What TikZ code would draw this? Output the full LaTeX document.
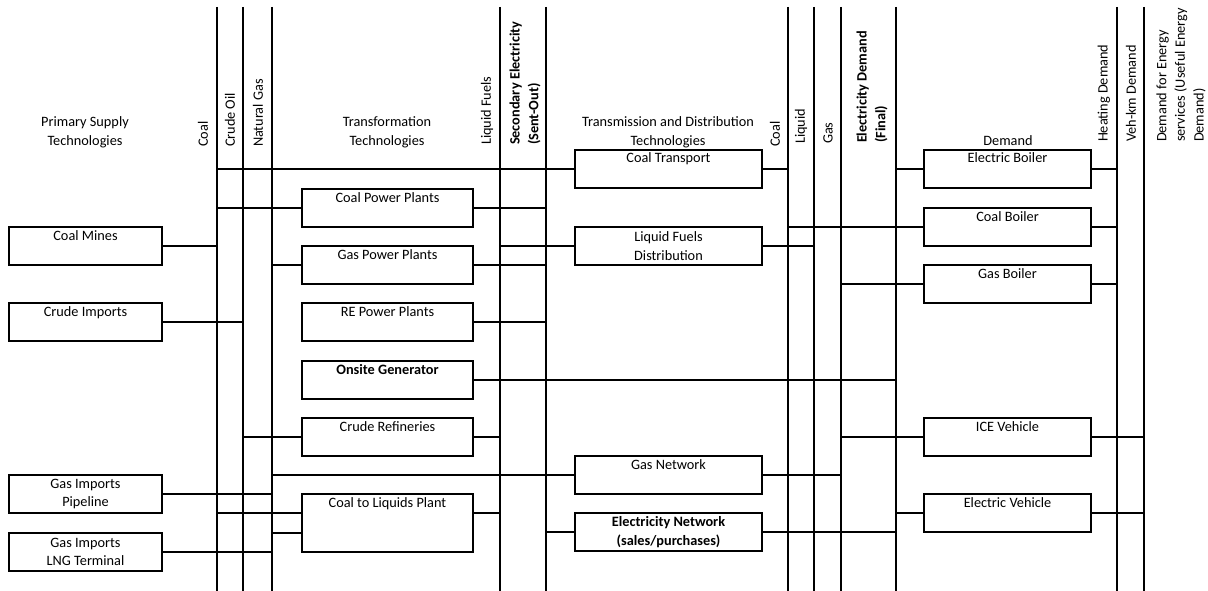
\documentclass[tikz,border=0pt]{standalone}
\usepackage{fontspec}
\setmainfont{Carlito}
\begin{document}
\begin{tikzpicture}[x=1pt,y=-1pt,line width=2pt,
    font=\fontsize{14.3}{18.7}\selectfont,
    tech/.style={draw,inner sep=0pt,minimum height=38pt,align=center},
    oneline/.style={text height=13pt,text depth=25pt},
    supply/.style={tech,minimum width=153pt},
    transf/.style={tech,minimum width=171pt},
    distr/.style={tech,minimum width=187pt},
    usage/.style={tech,minimum width=167pt},
    carrier/.style={rotate=90,anchor=west,inner sep=0pt,align=left}]
    \useasboundingbox (0,0) rectangle (1208,591);

    % energy carrier buses
    \coordinate (coal) at (217,7);
    \coordinate (crude) at (243,7);
    \coordinate (ngas) at (272,7);
    \coordinate (liqf) at (500,7);
    \coordinate (secel) at (546,7);
    \coordinate (coaltd) at (788,7);
    \coordinate (liqtd) at (814,7);
    \coordinate (gastd) at (841,7);
    \coordinate (eldem) at (896,7);
    \coordinate (heat) at (1117,7);
    \coordinate (vehkm) at (1144,7);
    \foreach \b in {coal,crude,ngas,liqf,secel,coaltd,liqtd,gastd,eldem,heat,vehkm}
        \draw (\b) -- ++(0,584);

    % column headings
    \node[align=center] (hsupply) at (85,132) {Primary Supply\\Technologies};
    \node[align=center] (htransf) at (387,132) {Transformation\\Technologies};
    \node[align=center] (hdistr) at (668,132) {Transmission and Distribution\\Technologies};
    \node (hdemand) at (1008,141) {Demand};

    % carrier labels
    \node[carrier] (lcoal) at (203,148) {Coal};
    \node[carrier] (lcrude) at (230,148) {Crude Oil};
    \node[carrier] (lngas) at (258,148) {Natural Gas};
    \node[carrier] (lliqf) at (487,146) {Liquid Fuels};
    \node[carrier,font=\fontsize{14.3}{18.7}\selectfont\bfseries] (lsecel) at (525,146) {Secondary Electricity\\(Sent-Out)};
    \node[carrier] (lcoaltd) at (775,148) {Coal};
    \node[carrier] (lliqtd) at (801,145) {Liquid};
    \node[carrier] (lgastd) at (828,145) {Gas};
    \node[carrier,font=\fontsize{14.3}{18.7}\selectfont\bfseries] (leldem) at (872,144) {Electricity Demand\\(Final)};
    \node[carrier] (lheat) at (1104,143) {Heating Demand};
    \node[carrier] (lvehkm) at (1131,143) {Veh-km Demand};
    \node[carrier] (lservice) at (1181,143) {Demand for Energy\\services (Useful Energy\\Demand)};

    % primary supply
    \node[supply,oneline] (cmines) at (85.5,246) {Coal Mines};
    \node[supply,oneline] (crimp) at (85.5,322) {Crude Imports};
    \node[supply] (gpipe) at (85.5,494) {Gas Imports\\Pipeline};
    \node[supply] (glng) at (85.5,552) {Gas Imports\\LNG Terminal};

    % transformation
    \node[transf,oneline] (cpp) at (387.5,208) {Coal Power Plants};
    \node[transf,oneline] (gpp) at (387.5,265) {Gas Power Plants};
    \node[transf,oneline] (repp) at (387.5,322) {RE Power Plants};
    \node[transf,oneline,font=\fontsize{14.3}{18.7}\selectfont\bfseries] (onsite) at (387.5,380) {Onsite Generator};
    \node[transf,oneline] (cref) at (387.5,437) {Crude Refineries};
    \node[transf,minimum height=58pt,text height=13pt,text depth=45pt] (ctl) at (387.5,523) {Coal to Liquids Plant};

    % transmission and distribution
    \node[distr,oneline] (ctrans) at (668.5,169) {Coal Transport};
    \node[distr] (lfd) at (668.5,246) {Liquid Fuels\\Distribution};
    \node[distr,oneline] (gnet) at (668.5,475) {Gas Network};
    \node[distr,font=\fontsize{14.3}{18.7}\selectfont\bfseries] (enet) at (668.5,532) {Electricity Network\\(sales/purchases)};

    % demand
    \node[usage,oneline] (eboil) at (1007.5,169) {Electric Boiler};
    \node[usage,oneline] (cboil) at (1007.5,227) {Coal Boiler};
    \node[usage,oneline] (gboil) at (1007.5,284) {Gas Boiler};
    \node[usage,oneline] (ice) at (1007.5,437) {ICE Vehicle};
    \node[usage,oneline] (ev) at (1007.5,513) {Electric Vehicle};

    \coordinate (ctlin1) at ([yshift=10pt]ctl.west);
    \coordinate (ctlin2) at ([yshift=-10pt]ctl.west);
    \coordinate (ctlout) at ([yshift=10pt]ctl.east);

    % supply to buses
    \draw (cmines.east) -- (cmines.east -| coal);
    \draw (crimp.east) -- (crimp.east -| crude);
    \draw (gpipe.east) -- (gpipe.east -| ngas);
    \draw (glng.east) -- (glng.east -| ngas);

    % transformation in
    \draw (ctrans.west -| coal) -- (ctrans.west);
    \draw (cpp.west -| coal) -- (cpp.west);
    \draw (gpp.west -| ngas) -- (gpp.west);
    \draw (cref.west -| crude) -- (cref.west);
    \draw (gnet.west -| ngas) -- (gnet.west);
    \draw (ctlin1 -| coal) -- (ctlin1);
    \draw (ctlin2 -| ngas) -- (ctlin2);

    % transformation out
    \draw (cpp.east) -- (cpp.east -| secel);
    \draw (gpp.east) -- (gpp.east -| secel);
    \draw (repp.east) -- (repp.east -| secel);
    \draw (onsite.east) -- (onsite.east -| eldem);
    \draw (cref.east) -- (cref.east -| liqf);
    \draw (ctlout) -- (ctlout -| liqf);

    % transmission and distribution
    \draw (lfd.west -| liqf) -- (lfd.west);
    \draw (enet.west -| secel) -- (enet.west);
    \draw (ctrans.east) -- (ctrans.east -| coaltd);
    \draw (lfd.east) -- (lfd.east -| liqtd);
    \draw (gnet.east) -- (gnet.east -| gastd);
    \draw (enet.east) -- (enet.east -| eldem);

    % demand
    \draw (eboil.west -| eldem) -- (eboil.west);
    \draw (cboil.west -| coaltd) -- (cboil.west);
    \draw (gboil.west -| gastd) -- (gboil.west);
    \draw (ice.west -| gastd) -- (ice.west);
    \draw (ev.west -| eldem) -- (ev.west);
    \draw (eboil.east) -- (eboil.east -| heat);
    \draw (cboil.east) -- (cboil.east -| heat);
    \draw (gboil.east) -- (gboil.east -| heat);
    \draw (ice.east) -- (ice.east -| vehkm);
    \draw (ev.east) -- (ev.east -| vehkm);
\end{tikzpicture}
\end{document}
